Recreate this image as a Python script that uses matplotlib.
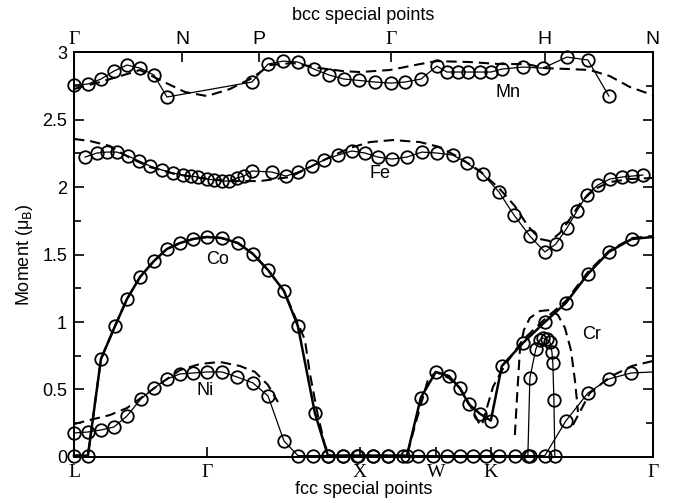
import matplotlib
matplotlib.use("Agg")
import matplotlib.pyplot as plt
from matplotlib.ticker import MultipleLocator

plt.rcParams['font.family'] = ['Liberation Sans', 'DejaVu Sans']

# path coordinates (units of 2pi/a)
fcc_ticks = [0.0, 0.866, 1.866, 2.366, 2.720, 3.780]
fcc_labels = ['L', 'Γ', 'X', 'W', 'K', 'Γ']
bcc_ticks = [0.0, 0.707, 1.207, 2.073, 3.073, 3.780]
bcc_labels = ['Γ', 'N', 'P', 'Γ', 'H', 'N']

# Mn
mn_x = [0.0, 0.091, 0.176, 0.261, 0.346, 0.431, 0.522, 0.607, 1.162, 1.267, 1.365, 1.462,
        1.567, 1.665, 1.763, 1.860, 1.965, 2.070, 2.161, 2.266, 2.370, 2.435, 2.507, 2.572,
        2.651, 2.723, 2.794, 2.932, 3.062, 3.219, 3.356, 3.493]
mn_y = [2.756, 2.763, 2.800, 2.859, 2.904, 2.881, 2.830, 2.667, 2.778, 2.911, 2.933, 2.926,
        2.874, 2.830, 2.800, 2.790, 2.778, 2.770, 2.778, 2.800, 2.896, 2.852, 2.852, 2.852,
        2.852, 2.852, 2.874, 2.889, 2.881, 2.963, 2.941, 2.674]
mn_dx = [0.0, 0.170, 0.346, 0.431, 0.561, 0.725, 0.868, 1.018, 1.162, 1.280, 1.430, 1.606,
         1.756, 1.867, 2.063, 2.259, 2.370, 2.585, 2.781, 2.958, 3.075, 3.238, 3.369, 3.499,
         3.630, 3.780]
mn_dy = [2.726, 2.778, 2.837, 2.867, 2.793, 2.704, 2.674, 2.726, 2.807, 2.904, 2.919, 2.881,
         2.859, 2.852, 2.867, 2.911, 2.933, 2.926, 2.911, 2.911, 2.881, 2.874, 2.867, 2.822,
         2.741, 2.681]

# Fe
fe_x = [0.072, 0.150, 0.215, 0.281, 0.353, 0.425, 0.496, 0.575, 0.646, 0.712, 0.764, 0.810,
        0.868, 0.914, 0.966, 1.012, 1.064, 1.110, 1.162, 1.293, 1.384, 1.462, 1.554, 1.632,
        1.724, 1.815, 1.900, 1.985, 2.076, 2.174, 2.272, 2.370, 2.474, 2.566, 2.670, 2.775,
        2.873, 2.977, 3.075, 3.147, 3.219, 3.284, 3.349, 3.421, 3.499, 3.578, 3.643, 3.715]
fe_y = [2.222, 2.252, 2.259, 2.259, 2.230, 2.193, 2.156, 2.126, 2.104, 2.089, 2.081, 2.074,
        2.059, 2.052, 2.044, 2.044, 2.067, 2.081, 2.119, 2.111, 2.081, 2.111, 2.156, 2.200,
        2.237, 2.267, 2.252, 2.222, 2.207, 2.222, 2.259, 2.252, 2.237, 2.178, 2.096, 1.963,
        1.793, 1.637, 1.519, 1.578, 1.696, 1.822, 1.941, 2.015, 2.059, 2.074, 2.081, 2.089]
fe_dx = [0.0, 0.104, 0.235, 0.366, 0.496, 0.660, 0.823, 1.018, 1.214, 1.410, 1.541, 1.671,
         1.802, 1.932, 2.082, 2.259, 2.389, 2.520, 2.651, 2.781, 2.879, 2.964, 3.042, 3.108,
         3.173, 3.238, 3.316, 3.401, 3.499, 3.630, 3.780]
fe_dy = [2.356, 2.341, 2.304, 2.215, 2.148, 2.096, 2.067, 2.044, 2.044, 2.074, 2.148, 2.222,
         2.289, 2.333, 2.348, 2.333, 2.296, 2.215, 2.119, 1.985, 1.859, 1.711, 1.615, 1.600,
         1.659, 1.763, 1.896, 1.985, 2.037, 2.059, 2.067]

# Co
co_x = [0.0, 0.091, 0.176, 0.268, 0.346, 0.431, 0.522, 0.607, 0.692, 0.777, 0.868, 0.966,
        1.071, 1.169, 1.267, 1.371, 1.462, 1.573, 1.658, 1.756, 1.848, 1.952, 2.050, 2.174,
        2.265, 2.363, 2.448, 2.520, 2.579, 2.651, 2.722, 2.794, 2.931, 3.075, 3.212, 3.356,
        3.493, 3.643, 3.780]
co_y = [0.01, 0.01, 0.726, 0.970, 1.170, 1.333, 1.452, 1.541, 1.585, 1.615, 1.630, 1.622,
        1.585, 1.504, 1.385, 1.230, 0.970, 0.326, 0.01, 0.01, 0.01, 0.01, 0.01, 0.01,
        0.440, 0.630, 0.600, 0.510, 0.390, 0.320, 0.270, 0.674, 0.844, 1.000, 1.141, 1.356,
        1.519, 1.615, 1.630]
co_dx = [0.0, 0.091, 0.176, 0.268, 0.346, 0.431, 0.522, 0.607, 0.692, 0.777, 0.868, 0.966,
         1.071, 1.169, 1.267, 1.371, 1.475, 1.508, 1.540, 1.592, 1.638, 1.671, 1.850, 2.174,
         2.233, 2.311, 2.363, 2.448, 2.520, 2.585, 2.651, 2.664, 2.736, 2.814, 2.931, 3.075,
         3.212, 3.356, 3.493, 3.643, 3.780]
co_dy = [0.01, 0.01, 0.726, 0.970, 1.170, 1.333, 1.452, 1.541, 1.585, 1.615, 1.630, 1.622,
         1.585, 1.504, 1.385, 1.230, 0.956, 0.867, 0.622, 0.311, 0.089, 0.01, 0.01, 0.01,
         0.259, 0.570, 0.630, 0.585, 0.511, 0.385, 0.237, 0.237, 0.519, 0.681, 0.867, 1.022,
         1.156, 1.370, 1.526, 1.622, 1.637]

# Ni
ni_x = [0.0, 0.091, 0.176, 0.261, 0.346, 0.437, 0.522, 0.607, 0.692, 0.777, 0.868, 0.966,
        1.064, 1.169, 1.267, 1.371, 1.462, 1.560, 1.658, 1.756, 1.854, 1.952, 2.050, 2.148,
        2.246, 2.344, 2.435, 2.520, 2.605, 2.690, 2.775, 2.880, 2.980, 3.075, 3.212, 3.356,
        3.493, 3.637, 3.780]
ni_y = [0.178, 0.185, 0.200, 0.222, 0.304, 0.430, 0.511, 0.578, 0.615, 0.622, 0.630, 0.630,
        0.593, 0.548, 0.452, 0.119, 0.01, 0.01, 0.01, 0.01, 0.01, 0.01, 0.01, 0.01,
        0.01, 0.01, 0.01, 0.01, 0.01, 0.01, 0.01, 0.01, 0.01, 0.01, 0.267, 0.474,
        0.578, 0.622, 0.630]
ni_dx = [0.0, 0.104, 0.235, 0.346, 0.464, 0.561, 0.692, 0.823, 0.953, 1.084, 1.182, 1.267, 1.332]
ni_dy = [0.244, 0.274, 0.311, 0.363, 0.459, 0.541, 0.644, 0.689, 0.704, 0.674, 0.630, 0.533, 0.407]
ni_dx2 = [3.258, 3.369, 3.499, 3.643, 3.780]
ni_dy2 = [0.237, 0.474, 0.593, 0.674, 0.711]

# Cr
cr_x = [2.964, 2.977, 3.016, 3.042, 3.062, 3.088, 3.108, 3.121, 3.127, 3.134, 3.140]
cr_y = [0.01, 0.585, 0.800, 0.867, 0.881, 0.874, 0.852, 0.778, 0.696, 0.422, 0.01]
cr_dx = [2.879, 2.892, 2.912, 2.938, 2.977, 3.042, 3.108, 3.160, 3.206, 3.245, 3.271, 3.284, 3.291]
cr_dy = [0.163, 0.422, 0.793, 0.941, 1.030, 1.081, 1.089, 1.052, 0.956, 0.793, 0.570, 0.422, 0.333]

labels = {'Mn': (2.75, 2.7), 'Fe': (1.93, 2.1), 'Co': (0.86, 1.46), 'Ni': (0.80, 0.49), 'Cr': (3.32, 0.91)}

fig = plt.figure(figsize=(6.77, 5.03), dpi=100)
ax = fig.add_axes([0.1093, 0.0915, 0.855, 0.805])

dash = dict(color='black', lw=1.5, dashes=(5, 2.8))
circ = dict(marker='o', ms=9, mfc='none', mec='black', mew=1.3, color='black', clip_on=False)

ax.plot(mn_dx, mn_dy, **dash)
ax.plot(fe_dx, fe_dy, **dash)
ax.plot(co_dx, co_dy, **dash)
ax.plot(ni_dx, ni_dy, **dash)
ax.plot(ni_dx2, ni_dy2, **dash)
ax.plot(cr_dx, cr_dy, **dash)

ax.plot(mn_x, mn_y, lw=0.9, **circ)
ax.plot(fe_x, fe_y, lw=0.9, **circ)
ax.plot(ni_x, ni_y, lw=0.9, markevery=list(range(len(ni_x) - 1)), **circ)
ax.plot(co_x, co_y, lw=1.8, markevery=list(range(len(co_x) - 1)), **circ)
ax.plot(cr_x, cr_y, lw=0.9, **circ)

for name, (lx, ly) in labels.items():
    ax.text(lx, ly, name, fontsize=13, ha='left', va='center')

ax.set_xlim(0, 3.78)
ax.set_ylim(0, 3)
ax.yaxis.set_major_locator(MultipleLocator(0.5))
ax.yaxis.set_minor_locator(MultipleLocator(0.25))
ax.set_yticks([0, 0.5, 1, 1.5, 2, 2.5, 3])
ax.set_yticklabels(['0', '0.5', '1', '1.5', '2', '2.5', '3'])
ax.set_xticks(fcc_ticks)
ax.set_xticklabels(fcc_labels, family=['Liberation Serif', 'DejaVu Serif'])
ax.tick_params(axis='both', which='both', direction='in', labelsize=13, width=1.2)
ax.tick_params(axis='y', which='major', length=7, right=True, pad=5)
ax.tick_params(axis='y', which='minor', length=5, right=True)
ax.tick_params(axis='x', which='major', length=7, top=True, pad=5)
for t in ax.get_xticklabels():
    t.set_fontsize(14)
ax.set_xlabel('fcc special points', fontsize=13, labelpad=0)
ax.set_ylabel('Moment (μ$_\\mathrm{B}$)', fontsize=13, labelpad=5)

ax2 = ax.twiny()
ax2.set_xlim(0, 3.78)
ax2.set_xticks(bcc_ticks)
ax2.set_xticklabels(bcc_labels)
ax2.tick_params(axis='x', direction='in', length=7, width=1.2, labelsize=14, pad=3)
for t, lab in zip(ax2.get_xticklabels(), bcc_labels):
    if lab == 'Γ':
        t.set_family(['Liberation Serif', 'DejaVu Serif'])
ax2.set_xlabel('bcc special points', fontsize=13, labelpad=8)

for a in (ax, ax2):
    for s in a.spines.values():
        s.set_linewidth(1.4)

fig.savefig('out.png', dpi=100)
